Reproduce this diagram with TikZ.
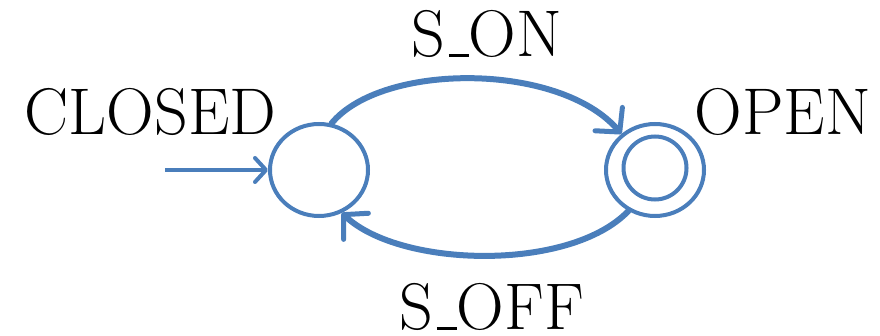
\documentclass[tikz,border=0pt]{standalone}
\usepackage{fontspec}
\usetikzlibrary{arrows.meta,shapes.geometric}
\definecolor{stateblue}{RGB}{74,126,187}
% short underscore resting on the baseline
\newcommand{\lowbar}{\leavevmode\kern.06em\rule{.3em}{.05em}}
\tikzset{
  statering/.style={ellipse,draw=stateblue,line width=4pt,minimum width=98pt,minimum height=92pt,inner sep=0pt},
  innerring/.style={circle,draw=stateblue,line width=4pt,minimum size=63pt,inner sep=0pt},
  transition/.style={draw=stateblue,line width=6pt,line cap=round,
    -{Straight Barb[length=17pt,width=36pt,line width=5pt,round]}},
  entry/.style={draw=stateblue,line width=4pt,
    -{Straight Barb[length=11pt,width=24pt,line width=4pt,round]}},
  lbl/.style={anchor=base,inner sep=0pt,font=\fontsize{66pt}{70pt}\selectfont}
}
\begin{document}
\begin{tikzpicture}[x=1pt,y=-1pt]
  \useasboundingbox (0,0) rectangle (880,336);

  % states
  \node[statering] (closed) at (319,170) {};
  \node[statering] (open) at (655,170) {};
  \node[innerring] (openin) at (655,168) {};

  % state names and transition labels
  \node[lbl] (tclosed) at (150.5,135) {CLOSED};
  \node[lbl] (topen) at (783,135) {OPEN};
  \node[lbl] (ton) at (486.5,57) {S\lowbar ON};
  \node[lbl] (toff) at (491.5,330) {S\lowbar OFF};

  % initial arrow
  \coordinate (init) at (165,170);
  \draw[entry] (init) -- (closed);

  % transitions
  \draw[transition] (closed.75) .. controls (382,62) and (560,62) .. (open.133);
  \draw[transition] (open.-123) .. controls (570,272) and (400,268) .. (closed.-62);
\end{tikzpicture}
\end{document}
